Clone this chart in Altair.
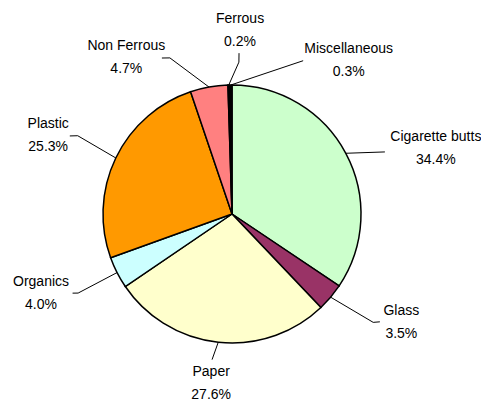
import altair as alt
import pandas as pd
import numpy as np

# ---- data ----
categories = ["Cigarette butts", "Glass", "Paper", "Organics", "Plastic",
              "Non Ferrous", "Ferrous", "Miscellaneous"]
percents = [34.4, 3.5, 27.6, 4.0, 25.3, 4.7, 0.2, 0.3]
colors = ["#CCFFCC", "#993366", "#FFFFCC", "#CCFFFF", "#FF9900",
          "#FF8080", "#000000", "#000000"]

# ---- label layout (degrees clockwise from 12 o'clock, radius in px) ----
label_angle = [72.3, 122.6, 187.0, 247.3, 293.2, 326.0, 2.5, 37.2]
label_radius = [214, 201, 171, 207, 200, 189, 184, 193]
elbow_angle = [67.9, 127.5, 187.8, 242.8, 296.9, 338.3, 2.6, 24.9]
elbow_radius = [165, 178, 147, 173, 173, 168, 152, 169]
stub_angle = [67.9, 126.1, 187.8, 243.6, 295.7, 335.8, 2.5, 24.9]
stub_radius = [165, 183, 147, 178, 180, 171, 161, 169]

R = 129
W, H = 473, 394
CX, CY = 224, 206

pcts = np.array(percents)
start = np.cumsum(pcts) - pcts
mid_angle = (start + pcts / 2) * 3.6


def polar(a, r):
    t = np.radians(a)
    return r * np.sin(t), r * np.cos(t)


pie_df = pd.DataFrame({"category": categories, "pct": percents,
                       "idx": list(range(len(categories)))})

line_rows = []
for i, c in enumerate(categories):
    for k, (a, r) in enumerate([(mid_angle[i], R),
                                (elbow_angle[i], elbow_radius[i]),
                                (stub_angle[i], stub_radius[i])]):
        x, y = polar(a, r)
        line_rows.append({"category": c, "k": k, "x": x, "y": y})
line_df = pd.DataFrame(line_rows)

lab_rows = []
for i, c in enumerate(categories):
    x, y = polar(label_angle[i], label_radius[i])
    lab_rows.append({"category": c, "label": f"{c}\n{percents[i]:.1f}%",
                     "x": x, "y": y})
lab_df = pd.DataFrame(lab_rows)

xs = alt.Scale(domain=[-CX, W - CX], nice=False, zero=False)
ys = alt.Scale(domain=[-(H - CY), CY], nice=False, zero=False)

pie = alt.Chart(pie_df).mark_arc(radius=R, stroke="black", strokeWidth=1.5).encode(
    theta=alt.Theta("pct:Q", stack=True),
    order=alt.Order("idx:Q"),
    color=alt.Color("category:N", scale=alt.Scale(domain=categories, range=colors),
                    legend=None),
    x=alt.X(datum=0, scale=xs, axis=None),
    y=alt.Y(datum=0, scale=ys, axis=None),
)

leaders = alt.Chart(line_df).mark_line(color="black", strokeWidth=1).encode(
    x=alt.X("x:Q", scale=xs, axis=None),
    y=alt.Y("y:Q", scale=ys, axis=None),
    detail="category:N",
    order="k:Q",
)

labels = alt.Chart(lab_df).mark_text(
    font="Liberation Sans", fontSize=14, color="black", lineBreak="\n",
    lineHeight=23, align="center", baseline="middle", dy=-11.5
).encode(
    x=alt.X("x:Q", scale=xs, axis=None),
    y=alt.Y("y:Q", scale=ys, axis=None),
    text="label:N",
)

chart = alt.layer(pie, leaders, labels).properties(
    width=W, height=H, padding=0,
    autosize=alt.AutoSizeParams(type="none"),
).configure_view(stroke=None)

chart.save("out.html", embed_options={"renderer": "svg", "actions": False})
